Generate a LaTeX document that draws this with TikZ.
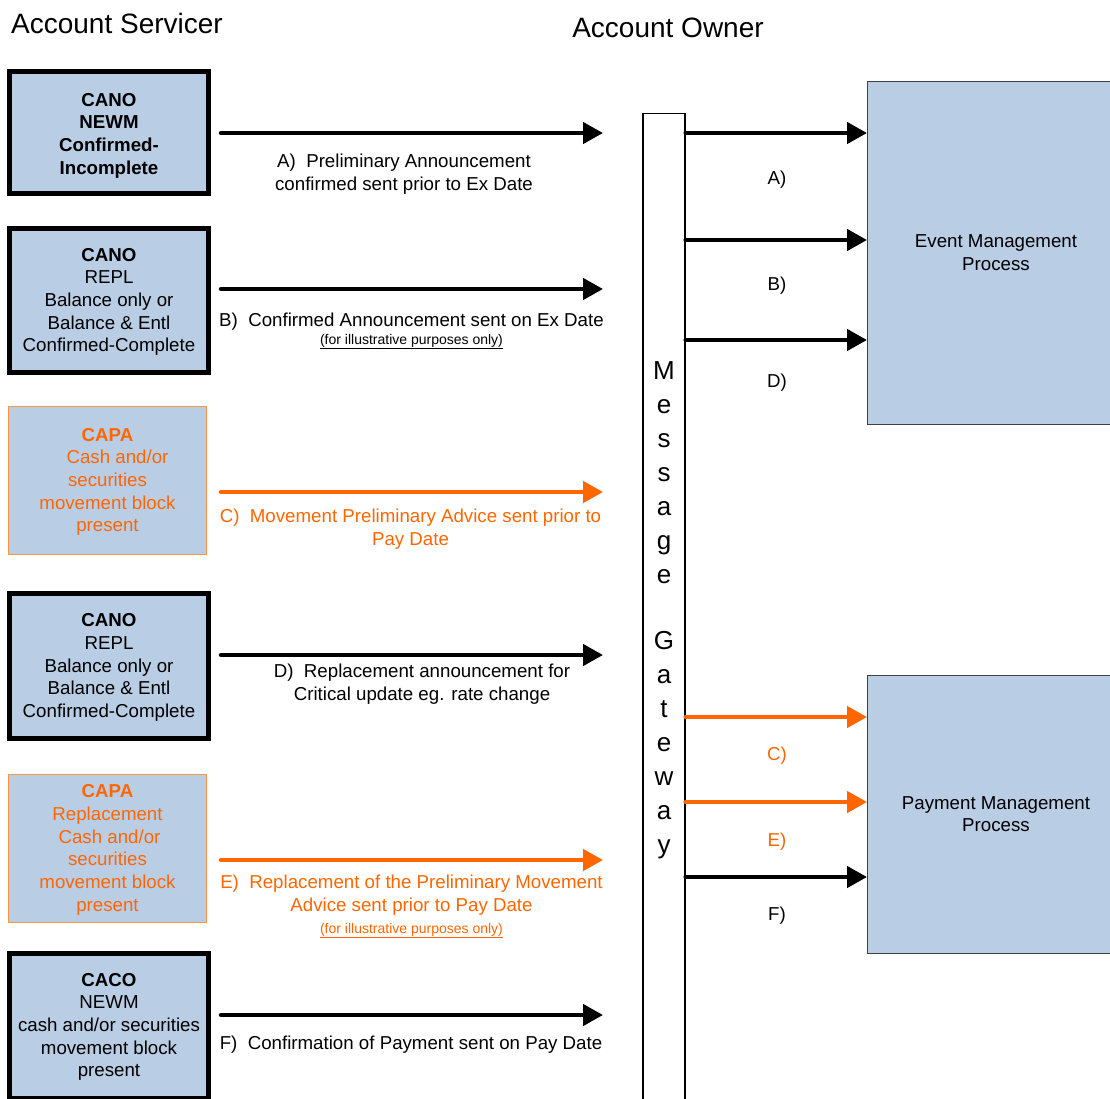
\documentclass[tikz,border=0pt]{standalone}
\usepackage{fontspec}
\setmainfont{Liberation Sans}
\usetikzlibrary{arrows.meta}
\definecolor{boxblue}{HTML}{B9CDE5}
\definecolor{orng}{HTML}{FF6600}
\definecolor{orngedge}{HTML}{F79646}
\newcommand{\topstrut}[1]{\rule{0pt}{#1}}
\begin{document}
\begin{tikzpicture}[x=1pt,y=-1pt,
  txt/.style={font=\fontsize{18.7}{22.7}\selectfont, align=center, inner sep=0pt},
  lbl/.style={txt, yshift=-2.5pt},
  small/.style={font=\fontsize{14}{16}\selectfont, align=center, inner sep=0pt, yshift=-2.5pt},
  title/.style={font=\fontsize{28}{32}\selectfont, inner sep=0pt},
  thickbox/.style={draw=black, line width=4.5pt, fill=boxblue, minimum width=199pt, txt},
  orangebox/.style={draw=orngedge, line width=1.2pt, fill=boxblue, minimum width=198pt, text=orng, txt},
  procbox/.style={draw=black!75, line width=1pt, fill=boxblue, minimum width=257pt, txt},
  arr/.style={line width=4.5pt, line cap=round, -{Triangle[length=20pt,width=21pt]}},
  oarr/.style={arr, draw=orng, -{Triangle[length=20pt,width=21pt,fill=orng]}},
  gwletter/.style={font=\fontsize{26}{30}\selectfont, inner sep=0pt, anchor=base}
]
\useasboundingbox (0,0) rectangle (1110,1099);
\clip (0,0) rectangle (1110,1099);

% titles
\node[title] (t1) at (117,23) {Account Servicer};
\node[title] (t2) at (668,28) {Account Owner};

% left boxes
\node[thickbox, minimum height=122pt] (b1) at (109,132.5)
  {\topstrut{19.5pt}\textbf{CANO}\\\textbf{NEWM}\\\textbf{Confirmed-}\\\textbf{Incomplete}};
\node[thickbox, minimum height=144pt] (b2) at (109,300.5)
  {\topstrut{16pt}\textbf{CANO}\\REPL\\Balance only or\\Balance \& Entl\\Confirmed-Complete};
\node[orangebox, minimum height=148pt] (b3) at (107.5,480.5)
  {\topstrut{16pt}\textbf{CAPA}\\\hspace*{20pt}Cash and/or\\securities\\movement block\\present};
\node[thickbox, minimum height=145pt] (b4) at (109,666)
  {\topstrut{16pt}\textbf{CANO}\\REPL\\Balance only or\\Balance \& Entl\\Confirmed-Complete};
\node[orangebox, minimum height=148pt] (b5) at (107.5,848.5)
  {\topstrut{16pt}\textbf{CAPA}\\Replacement\\\hspace*{4pt}Cash and/or\\securities\\movement block\\present};
\node[thickbox, minimum height=145pt] (b6) at (109,1026)
  {\topstrut{15pt}\textbf{CACO}\\NEWM\\cash and/or securities\\movement block\\present};

% gateway
\node[draw, line width=1.3pt, fill=white, minimum width=42pt, minimum height=1000pt, anchor=north, inner sep=0pt] (gw) at (664,113) {};
\foreach \l/\y [count=\i] in {M/379,e/413,s/447,s/481,a/515,g/549,e/583,G/649,a/683,t/717,e/751,w/785,a/819,y/853}
  \node[gwletter] (gl\i) at (664,\y) {\l};

% process boxes
\node[procbox, minimum height=342pt] (ev) at (996,253) {Event Management\\Process};
\node[procbox, minimum height=278pt] (pm) at (996,814) {Payment Management\\Process};

% left arrows
\coordinate (sA) at (221,133);  \coordinate (eA) at (603,133);
\coordinate (sB) at (221,289);  \coordinate (eB) at (603,289);
\coordinate (sC) at (221,492);  \coordinate (eC) at (603,492);
\coordinate (sD) at (221,655);  \coordinate (eD) at (603,655);
\coordinate (sE) at (221,860);  \coordinate (eE) at (603,860);
\coordinate (sF) at (221,1015); \coordinate (eF) at (603,1015);
\draw[arr] (sA) -- (eA);
\draw[arr] (sB) -- (eB);
\draw[oarr] (sC) -- (eC);
\draw[arr] (sD) -- (eD);
\draw[oarr] (sE) -- (eE);
\draw[arr] (sF) -- (eF);

% left labels
\node[lbl] (lA) at (404,172) {A)\ \ Preliminary Announcement\\confirmed sent prior to Ex Date};
\node[lbl] (lB) at (411.5,319) {B)\ \ Confirmed Announcement sent on Ex Date};
\node[small] (nB) at (411.5,339) {\underline{(for illustrative purposes only)}};
\node[lbl, text=orng] (lC) at (410.5,526.5) {C)\ \ Movement Preliminary Advice sent prior to\\Pay Date};
\node[lbl] (lD) at (422,681.5) {D)\ \ Replacement announcement for\\Critical update eg. rate change};
\node[lbl, text=orng] (lE) at (411.5,892.5) {E)\ \ Replacement of the Preliminary Movement\\Advice sent prior to Pay Date};
\node[small, text=orng] (nE) at (411.5,928) {\underline{(for illustrative purposes only)}};
\node[lbl] (lF) at (411,1042) {F)\ \ Confirmation of Payment sent on Pay Date};

% right arrows
\coordinate (rA) at (0,133);
\coordinate (rB) at (0,240);
\coordinate (rD) at (0,340);
\coordinate (rC) at (0,717);
\coordinate (rE) at (0,802);
\coordinate (rF) at (0,877);
\draw[arr] (gw.east |- rA) -- (ev.west |- rA);
\draw[arr] (gw.east |- rB) -- (ev.west |- rB);
\draw[arr] (gw.east |- rD) -- (ev.west |- rD);
\draw[oarr] (gw.east |- rC) -- (pm.west |- rC);
\draw[oarr] (gw.east |- rE) -- (pm.west |- rE);
\draw[arr] (gw.east |- rF) -- (pm.west |- rF);

% right labels
\node[lbl] (qA) at (777,177) {A)};
\node[lbl] (qB) at (777,283) {B)};
\node[lbl] (qD) at (777,380) {D)};
\node[lbl, text=orng] (qC) at (777,753) {C)};
\node[lbl, text=orng] (qE) at (777,839) {E)};
\node[lbl] (qF) at (777,913) {F)};
\end{tikzpicture}
\end{document}
